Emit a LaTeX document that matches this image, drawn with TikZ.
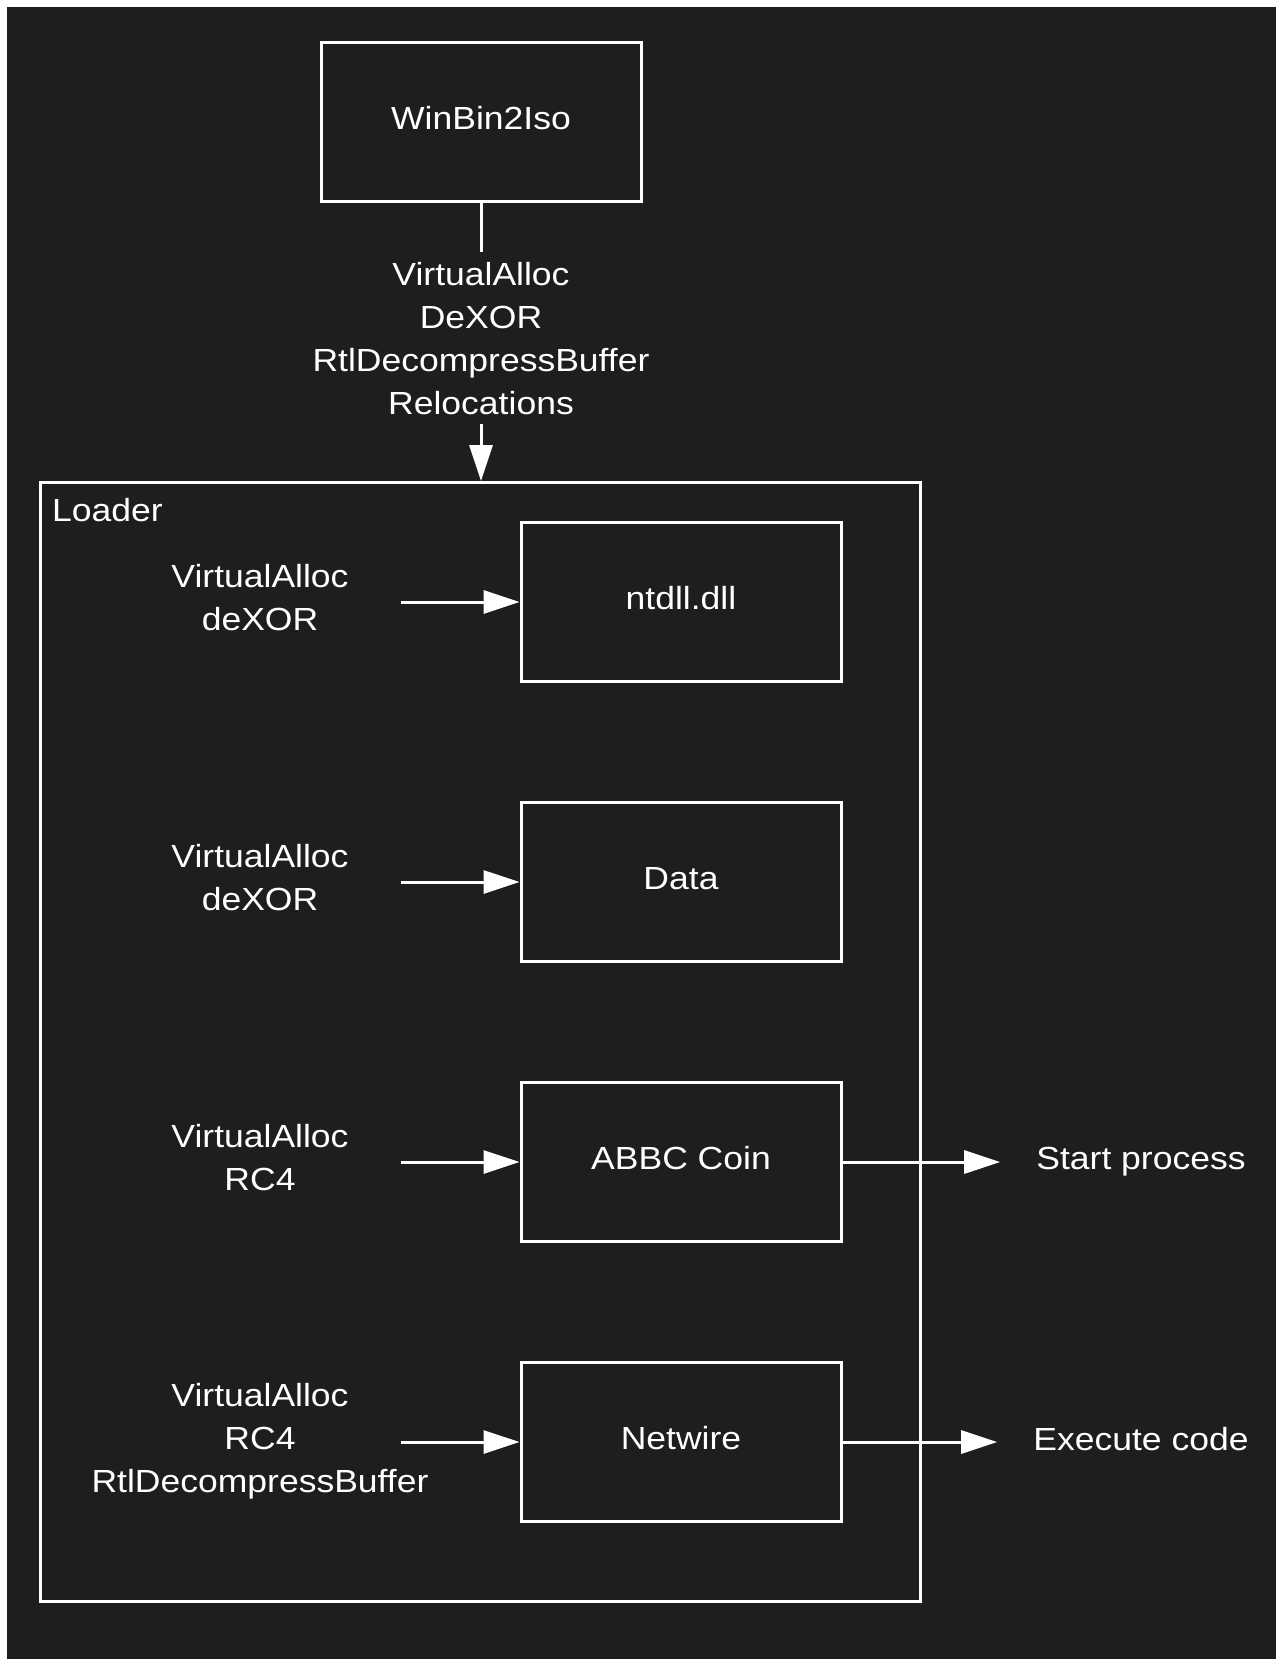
\documentclass[tikz,border=0pt]{standalone}
\usepackage{fontspec}
\setmainfont{Liberation Sans}[FakeStretch=1.11]
\usepackage{xcolor}
\usepackage{tikz}
\usetikzlibrary{positioning,arrows.meta}
\definecolor{bgdark}{RGB}{30,30,30}

\tikzset{
    blk/.style={draw=white, line width=3pt, minimum width=320pt, minimum height=159pt, inner sep=0pt, text=white, text depth=8pt, text height=23pt},
    txt/.style={text=white, align=center, inner sep=0pt},
    arr/.style={draw=white, line width=3pt, -{Triangle[length=36pt,width=23pt]}},
}

\begin{document}
\begin{tikzpicture}[x=1pt, y=-1pt, font=\fontsize{32}{43}\selectfont]
    \useasboundingbox (0,0) rectangle (1276,1659);
    \fill[white] (0,0) rectangle (1276,1659);
    \fill[bgdark] (7,7) rectangle (1276,1659);

    % Boxes
    \node[blk] (winbin) at (481,122) {WinBin2Iso};
    \node[draw=white, line width=3pt, minimum width=880pt, minimum height=1119pt, inner sep=0pt] (loader) at (480.5,1042) {};
    \node[txt, anchor=base west] (loadertxt) at (52,521) {Loader};
    \node[blk] (ntdll) at (681,602) {ntdll.dll};
    \node[blk] (data) at (681,882) {Data};
    \node[blk] (abbc) at (681,1162) {ABBC Coin};
    \node[blk] (netwire) at (681,1442) {Netwire};

    % Unpacking steps
    \draw[arr] (winbin.south) -- node[txt, fill=bgdark, inner ysep=10pt, pos=0.486] (steps) {VirtualAlloc\\DeXOR\\RtlDecompressBuffer\\Relocations} (winbin.south |- loader.north);

    \node[txt] (ntdllops) at (260,597.5) {VirtualAlloc\\deXOR};
    \node[txt] (dataops) at (260,877.5) {VirtualAlloc\\deXOR};
    \node[txt] (abbcops) at (260,1157.5) {VirtualAlloc\\RC4};
    \node[txt] (netwireops) at (260,1441) {VirtualAlloc\\RC4\\RtlDecompressBuffer};

    \coordinate (ntdllin) at (401,602);
    \coordinate (datain) at (401,882);
    \coordinate (abbcin) at (401,1162);
    \coordinate (netwirein) at (401,1442);
    \draw[arr] (ntdllin) -- (ntdll);
    \draw[arr] (datain) -- (data);
    \draw[arr] (abbcin) -- (abbc);
    \draw[arr] (netwirein) -- (netwire);

    % Results
    \node[txt, inner xsep=36pt, text depth=7pt] (start) at (1141,1162) {Start process};
    \node[txt, inner xsep=36pt, text depth=7pt] (exec) at (1141,1442) {Execute code};
    \draw[arr] (abbc) -- (start);
    \draw[arr] (netwire) -- (exec);
\end{tikzpicture}
\end{document}
